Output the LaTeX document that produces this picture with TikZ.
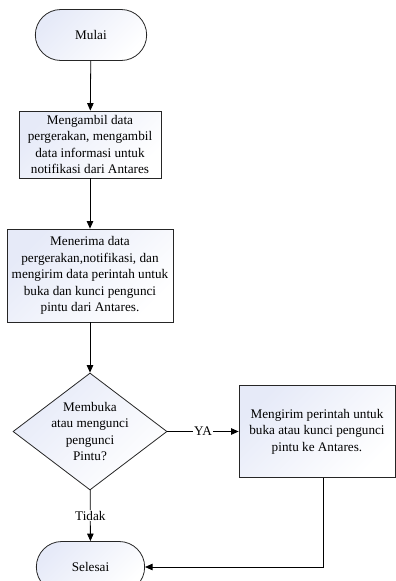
\documentclass[tikz,border=0pt]{standalone}
\usepackage{fontspec}
\setmainfont{Liberation Serif}
\usetikzlibrary{arrows.meta}
\usetikzlibrary{shapes.misc}
\usetikzlibrary{shapes.geometric}
\definecolor{boxfill}{RGB}{230,234,248}

\begin{document}
\begin{tikzpicture}[x=1pt,y=-1pt,
	font=\fontsize{13.2}{16.5}\selectfont,
	boxshade/.style={top color=boxfill,bottom color=white,shading angle=45},
	terminal/.style={rounded rectangle,draw=black!85,line width=0.8pt,boxshade,minimum width=118pt,minimum height=51pt},
	process/.style={rectangle,draw=black!85,line width=0.8pt,boxshade,align=center,inner sep=2pt},
	decision/.style={diamond,draw=black!85,line width=0.8pt,boxshade,align=center,inner sep=-5pt,aspect=1.32,minimum width=154pt,minimum height=117pt},
	flow/.style={draw=black,line width=0.8pt,-{Triangle[length=7.5pt,width=6.5pt]}},
	lbl/.style={fill=white,inner sep=1pt}
	]
	\useasboundingbox (0,0) rectangle (396,581);

	\node[terminal] (mulai) at (91,35) {Mulai};
	\node[process,minimum width=142pt,minimum height=67pt] (ambil) at (90,144.5)
	{Mengambil data\\pergerakan, mengambil\\data informasi untuk\\notifikasi dari Antares};
	\node[process,minimum width=166pt,minimum height=93pt] (terima) at (90,275.5)
	{Menerima data\\pergerakan,notifikasi, dan\\mengirim data perintah untuk\\buka dan kunci pengunci\\pintu dari Antares.};
	\node[decision] (pintu) at (90,431.5) {Membuka\\atau mengunci\\pengunci\\Pintu?};
	\node[process,minimum width=156pt,minimum height=92pt] (kirim) at (317,431.5)
	{Mengirim perintah untuk\\buka atau kunci pengunci\\pintu ke Antares.};
	\node[terminal,minimum width=115pt] (selesai) at (90.5,567) {Selesai};

	\draw[flow] (mulai) -- (ambil);
	\draw[flow] (ambil) -- (terima);
	\draw[flow] (terima) -- (pintu);
	\draw[flow] (pintu) -- node[lbl] {YA} (kirim);
	\draw[flow] (pintu) -- node[lbl] {Tidak} (selesai);
	\draw[flow] ([xshift=6pt]kirim.south) |- (selesai.east);
\end{tikzpicture}
\end{document}
